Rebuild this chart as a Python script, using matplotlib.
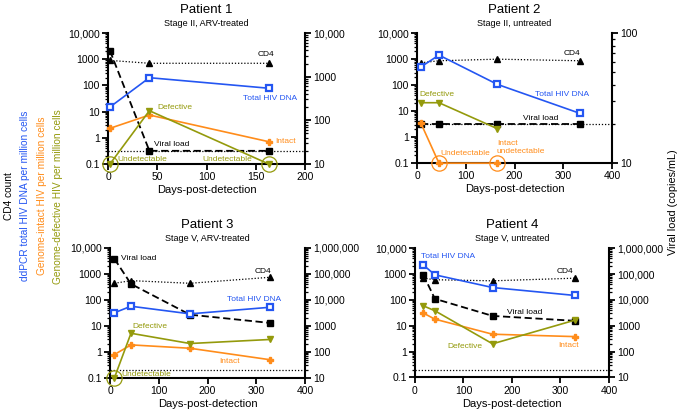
"""Four-patient HIV reservoir panels: cell-associated DNA (left log axis)
and plasma viral load (right log axis) versus days post detection."""

import matplotlib
matplotlib.use("Agg")
import matplotlib.pyplot as plt
from matplotlib.ticker import FixedLocator, LogLocator, NullFormatter

plt.rcParams["font.family"] = ["Liberation Sans", "DejaVu Sans"]

BLUE = "#2456f2"
ORANGE = "#ff8c1a"
OLIVE = "#949a0c"

# ---- data ----
titles = ["Patient 1", "Patient 2", "Patient 3", "Patient 4"]
subtitles = ["Stage II, ARV-treated", "Stage II, untreated",
             "Stage V, ARV-treated", "Stage V, untreated"]

p1_days = [2, 42, 163]
p1_cd4 = [900, 700, 700]
p1_total = [15, 197, 78]
p1_intact = [2.3, 7.4, 0.71]
p1_defective = [0.1, 10.8, 0.1]
p1_vl = [3900, 20, 20]

p2_days = [8, 45, 165, 334]
p2_cd4 = [720, 860, 990, 860]
p2_total = [500, 1420, 106, 8.2]
p2_intact = [3.4, 0.1, 0.1]
p2_defective = [21, 21, 2.1]
p2_vl = [20, 20, 20, 20]

p3_days = [9, 43, 164, 328]
p3_cd4 = [435, 550, 435, 740]
p3_total = [32, 57, 29, 52]
p3_intact = [0.79, 1.86, 1.38, 0.5]
p3_defective = [0.1, 5.2, 2.1, 3.0]
p3_vl = [380000, 41000, 2700, 1300]

p4_days = [17, 41, 160, 330]
p4_cd4 = [690, 600, 545, 690]
p4_total = [2250, 930, 300, 148]
p4_intact = [31, 18, 4.7, 3.8]
p4_defective = [59, 38, 2.0, 16.5]
p4_vl = [95000, 11000, 2400, 1550]

vl_limit = 20
left_ticks = [0.1, 1, 10, 100, 1000, 10000]
left_labels = ["0.1", "1", "10", "100", "1000", "10,000"]
right_ticks = [
    [10, 100, 1000, 10000],
    [10, 100],
    [10, 100, 1000, 10000, 100000, 1000000],
    [10, 100, 1000, 10000, 100000, 1000000],
]
right_labels = [
    ["10", "100", "1000", "10,000"],
    ["10", "100"],
    ["10", "100", "1000", "10,000", "100,000", "1,000,000"],
    ["10", "100", "1000", "10,000", "100,000", "1,000,000"],
]
xmax = [200, 400, 400, 400]
xticks = [[0, 50, 100, 150, 200], [0, 100, 200, 300, 400],
          [0, 100, 200, 300, 400], [0, 100, 200, 300, 400]]

# undetectable points that get a ring: (x, colour)
rings = [
    [(2, OLIVE), (163, OLIVE)],
    [(45, ORANGE), (165, ORANGE)],
    [(9, OLIVE)],
    [],
]

# annotations: (x, y, text, colour, ha)
notes = [
    [(160, 1500, "CD4", "black", "center"),
     (164, 32, "Total HIV DNA", BLUE, "center"),
     (50, 14, "Defective", OLIVE, "left"),
     (170, 0.7, "Intact", ORANGE, "left"),
     (47, 0.56, "Viral load", "black", "left"),
     (10, 0.15, "Undetectable", OLIVE, "left"),
     (96, 0.15, "Undetectable", OLIVE, "left")],
    [(318, 1700, "CD4", "black", "center"),
     (298, 45, "Total HIV DNA", BLUE, "center"),
     (4, 45, "Defective", OLIVE, "left"),
     (217, 5.2, "Viral load", "black", "left"),
     (47, 0.23, "Undetectable", ORANGE, "left"),
     (164, 0.4, "Intact\nundetectable", ORANGE, "left")],
    [(22, 3800, "Viral load", "black", "left"),
     (313, 1250, "CD4", "black", "center"),
     (295, 100, "Total HIV DNA", BLUE, "center"),
     (45, 9.6, "Defective", OLIVE, "left"),
     (224, 0.42, "Intact", ORANGE, "left"),
     (24, 0.14, "Undetectable", OLIVE, "left")],
    [(12, 4900, "Total HIV DNA", BLUE, "left"),
     (310, 1260, "CD4", "black", "center"),
     (189, 33, "Viral load", "black", "left"),
     (66, 1.6, "Defective", OLIVE, "left"),
     (295, 1.8, "Intact", ORANGE, "left")],
]

panels = [
    (p1_days, p1_cd4, p1_total, p1_intact, p1_defective, p1_vl),
    (p2_days, p2_cd4, p2_total, p2_intact, p2_defective, p2_vl),
    (p3_days, p3_cd4, p3_total, p3_intact, p3_defective, p3_vl),
    (p4_days, p4_cd4, p4_total, p4_intact, p4_defective, p4_vl),
]

# axes boxes in figure fractions [left, bottom, width, height]
boxes = [
    [0.1577, 0.603, 0.2876, 0.317],
    [0.6088, 0.605, 0.2847, 0.315],
    [0.1606, 0.085, 0.2847, 0.3148],
    [0.6058, 0.086, 0.2832, 0.3132],
]

fig = plt.figure(figsize=(6.85, 4.13), dpi=100)


def style_log_axis(axis, ticks, labels):
    axis.set_major_locator(FixedLocator(ticks))
    axis.set_ticklabels(labels)
    axis.set_minor_locator(LogLocator(base=10, subs=range(2, 10), numticks=20))
    axis.set_minor_formatter(NullFormatter())


for i, (days, cd4, total, intact, defective, vl) in enumerate(panels):
    ax = fig.add_axes(boxes[i])
    ax2 = ax.twinx()

    ax.set_yscale("log")
    ax.set_ylim(0.1, 10000)
    ax.set_xlim(0, xmax[i])
    ax2.set_yscale("log")
    ax2.set_ylim(right_ticks[i][0], right_ticks[i][-1])

    # viral load on the right axis
    ax2.axhline(vl_limit, color="black", ls=(0, (1, 1.5)), lw=0.9, zorder=1)
    ax2.plot(days, vl, color="black", ls=(0, (4, 2)), lw=1.3, marker="s",
             ms=4.5, clip_on=False, zorder=3)

    ax.plot(days, cd4, color="black", ls=(0, (1, 1.5)), lw=0.9, marker="^",
            ms=4, clip_on=False, zorder=3)
    ax.plot(days, total, color=BLUE, lw=1.2, marker="s", ms=5, mfc="white",
            mec=BLUE, mew=1.6, clip_on=False, zorder=4)
    ax.plot(days[:len(intact)], intact, color=ORANGE, lw=1.2, marker="P",
            ms=4, mec=ORANGE, clip_on=False, zorder=4)
    ax.plot(days[:len(defective)], defective, color=OLIVE, lw=1.2, marker="v",
            ms=4, clip_on=False, zorder=4)

    for rx, rc in rings[i]:
        ax.plot([rx], [0.1], "o", mfc="none", mec=rc, ms=11, mew=0.9,
                clip_on=False, zorder=5)

    for tx, ty, txt, tc, ha in notes[i]:
        ax.text(tx, ty, txt, color=tc, fontsize=6, ha=ha, va="center",
                zorder=6, linespacing=1.1)

    # put left axes above the twin so its lines show on top
    ax.set_zorder(ax2.get_zorder() + 1)
    ax.patch.set_visible(False)

    style_log_axis(ax.yaxis, left_ticks, left_labels)
    style_log_axis(ax2.yaxis, right_ticks[i], right_labels[i])
    ax.set_xticks(xticks[i])

    for a in (ax, ax2):
        a.spines["top"].set_visible(False)
        for s in ("left", "right", "bottom"):
            a.spines[s].set_linewidth(1.5)
        a.tick_params(which="major", length=4, width=1.3, labelsize=7.5, pad=2)
        a.tick_params(which="minor", length=2.5, width=0.9)
    ax.spines["right"].set_visible(False)
    ax2.spines["left"].set_visible(False)
    ax2.spines["bottom"].set_visible(False)

    ax.set_xlabel("Days-post-detection", fontsize=8, labelpad=2)
    ax.text(0.5, 1.13, titles[i], transform=ax.transAxes, ha="center",
            va="bottom", fontsize=9.5)
    ax.text(0.5, 1.04, subtitles[i], transform=ax.transAxes, ha="center",
            va="bottom", fontsize=6.5)

# shared vertical axis titles
left_titles = [
    ("CD4 count", "black", 0.013),
    ("ddPCR total HIV DNA per million cells", BLUE, 0.037),
    ("Genome-intact HIV per million cells", ORANGE, 0.061),
    ("Genome-defective HIV per million cells", OLIVE, 0.085),
]
for txt, col, xpos in left_titles:
    fig.text(xpos, 0.525, txt, color=col, rotation=90, ha="center",
             va="center", fontsize=7.3)
fig.text(0.982, 0.51, "Viral load (copies/mL)", rotation=90, ha="center",
         va="center", fontsize=7.8)

fig.savefig("out.png", dpi=100)
